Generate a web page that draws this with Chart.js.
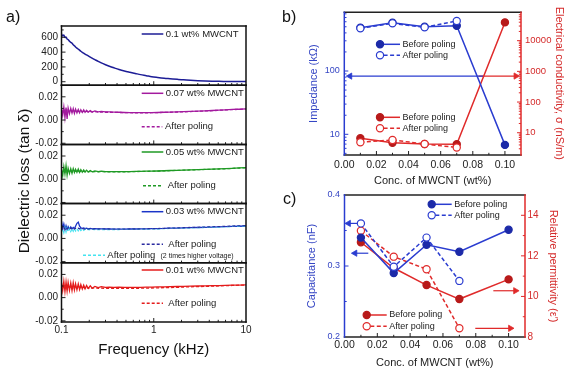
<!DOCTYPE html>
<html><head><meta charset="utf-8">
<script src="https://cdn.jsdelivr.net/npm/chart.js@4.4.1/dist/chart.umd.min.js"></script>
<style>
html,body{margin:0;padding:0;background:#fff;width:578px;height:382px;overflow:hidden}
canvas{position:absolute;left:0;top:0}
</style></head><body>
<canvas id="a0" width="578" height="382"></canvas>
<canvas id="a1" width="578" height="382"></canvas>
<canvas id="a2" width="578" height="382"></canvas>
<canvas id="a3" width="578" height="382"></canvas>
<canvas id="a4" width="578" height="382"></canvas>
<canvas id="pb" width="578" height="382"></canvas>
<canvas id="pc" width="578" height="382"></canvas>
<script>
// ---------------- Panel a data ----------------
const FREQ = [0.100,0.103,0.106,0.109,0.112,0.115,0.118,0.122,0.126,0.130,0.134,0.138,0.142,0.147,0.152,0.157,0.162,0.168,0.174,0.180,0.187,0.195,0.205,0.215,0.230,0.250,0.270,0.300,0.330,0.370,0.420,0.480,0.550,0.630,0.720,0.830,0.950,1.10,1.30,1.50,1.80,2.10,2.50,3.00,3.60,4.30,5.10,6.00,7.10,8.40,10.0];
const TAN_010 = [645,618,630,598,604,576,570,548,532,520,500,486,470,454,440,426,412,398,386,374,362,348,332,318,298,274,254,230,210,188,165,145,128,112,96,82,68,58,48,41,32,25,19,14,10,7,5,4,3,2,2];
const TAN_007 = [0.0095,0.0040,0.0112,0.0020,0.0108,0.0010,0.0104,0.0055,0.0100,0.0060,0.0098,0.0057,0.0094,0.0062,0.0091,0.0063,0.0089,0.0065,0.0087,0.0066,0.0084,0.0068,0.0081,0.0069,0.0078,0.0070,0.0075,0.0070,0.0071,0.0068,0.0067,0.0065,0.0064,0.0063,0.0063,0.0063,0.0064,0.0065,0.0067,0.0068,0.0070,0.0072,0.0074,0.0076,0.0079,0.0082,0.0085,0.0088,0.0091,0.0093,0.0096];
const TAN_007_P = [0.0085,0.0070,0.0092,0.0066,0.0088,0.0068,0.0086,0.0070,0.0084,0.0071,0.0083,0.0070,0.0081,0.0071,0.0080,0.0070,0.0078,0.0070,0.0077,0.0069,0.0076,0.0069,0.0074,0.0068,0.0072,0.0068,0.0070,0.0067,0.0067,0.0066,0.0065,0.0064,0.0063,0.0062,0.0062,0.0062,0.0063,0.0064,0.0066,0.0067,0.0069,0.0071,0.0073,0.0075,0.0078,0.0081,0.0084,0.0087,0.0090,0.0092,0.0095];
const TAN_005 = [0.0085,0.0030,0.0110,0.0045,0.0118,0.0035,0.0095,0.0050,0.0090,0.0052,0.0092,0.0058,0.0086,0.0060,0.0088,0.0059,0.0082,0.0061,0.0080,0.0062,0.0077,0.0063,0.0075,0.0064,0.0072,0.0065,0.0069,0.0065,0.0066,0.0065,0.0065,0.0065,0.0066,0.0067,0.0068,0.0069,0.0070,0.0071,0.0073,0.0075,0.0077,0.0079,0.0081,0.0083,0.0085,0.0087,0.0089,0.0091,0.0094,0.0097,0.0100];
const TAN_005_P = [0.0072,0.0062,0.0078,0.0060,0.0076,0.0062,0.0074,0.0063,0.0073,0.0063,0.0072,0.0064,0.0071,0.0064,0.0070,0.0064,0.0069,0.0064,0.0069,0.0064,0.0068,0.0064,0.0067,0.0064,0.0066,0.0064,0.0065,0.0064,0.0064,0.0064,0.0064,0.0064,0.0065,0.0066,0.0067,0.0068,0.0069,0.0070,0.0072,0.0074,0.0076,0.0078,0.0080,0.0082,0.0084,0.0086,0.0088,0.0090,0.0093,0.0096,0.0099];
const TAN_003 = [0.0150,0.0085,0.0125,0.0075,0.0110,0.0078,0.0102,0.0080,0.0098,0.0082,0.0095,0.0084,0.0105,0.0130,0.0140,0.0105,0.0092,0.0086,0.0090,0.0084,0.0088,0.0083,0.0086,0.0082,0.0084,0.0082,0.0082,0.0081,0.0081,0.0080,0.0080,0.0080,0.0081,0.0081,0.0082,0.0083,0.0084,0.0085,0.0086,0.0088,0.0089,0.0091,0.0093,0.0094,0.0096,0.0098,0.0100,0.0101,0.0103,0.0105,0.0107];
const TAN_003_P = [0.0095,0.0080,0.0098,0.0078,0.0094,0.0080,0.0092,0.0081,0.0090,0.0081,0.0089,0.0082,0.0088,0.0082,0.0087,0.0082,0.0086,0.0082,0.0085,0.0081,0.0085,0.0081,0.0084,0.0081,0.0083,0.0081,0.0082,0.0081,0.0081,0.0080,0.0080,0.0080,0.0081,0.0081,0.0082,0.0083,0.0084,0.0085,0.0087,0.0088,0.0090,0.0092,0.0094,0.0096,0.0098,0.0100,0.0102,0.0104,0.0106,0.0108,0.0110];
const TAN_003_P2 = [0.0060,0.0085,0.0050,0.0090,0.0055,0.0088,0.0058,0.0086,0.0060,0.0085,0.0062,0.0084,0.0064,0.0083,0.0066,0.0082,0.0068,0.0081,0.0070,0.0080,0.0072,0.0079,0.0074,0.0078,0.0076,0.0077,0.0077,0.0077,0.0077,0.0077,0.0077,0.0078,0.0078,0.0079,0.0080,0.0081,0.0082,0.0083,0.0084,0.0086,0.0087,0.0089,0.0091,0.0093,0.0095,0.0097,0.0099,0.0101,0.0103,0.0105,0.0107];
const TAN_001 = [0.0130,0.0060,0.0140,0.0052,0.0135,0.0058,0.0132,0.0062,0.0126,0.0060,0.0128,0.0066,0.0120,0.0068,0.0118,0.0070,0.0112,0.0074,0.0108,0.0076,0.0105,0.0079,0.0101,0.0081,0.0097,0.0086,0.0094,0.0088,0.0091,0.0089,0.0090,0.0089,0.0089,0.0089,0.0089,0.0090,0.0091,0.0092,0.0093,0.0094,0.0096,0.0097,0.0099,0.0100,0.0102,0.0103,0.0104,0.0105,0.0107,0.0108,0.0109];
const TAN_001_P = [0.0110,0.0075,0.0115,0.0072,0.0108,0.0076,0.0105,0.0078,0.0102,0.0078,0.0100,0.0079,0.0097,0.0080,0.0095,0.0080,0.0093,0.0080,0.0091,0.0080,0.0089,0.0080,0.0087,0.0080,0.0085,0.0080,0.0082,0.0080,0.0080,0.0079,0.0079,0.0079,0.0079,0.0080,0.0081,0.0082,0.0083,0.0084,0.0086,0.0087,0.0089,0.0091,0.0093,0.0095,0.0097,0.0099,0.0101,0.0103,0.0105,0.0107,0.0109];
const FREQ_TICKS = [0.1, 1, 10];
const FREQ_MINOR = [0.2,0.3,0.4,0.5,0.6,0.7,0.8,0.9,2,3,4,5,6,7,8,9];
const TOP_TICKS = [0, 200, 400, 600];
const TOP_MINOR = [100, 300, 500, 700];
const TAN_TICKS = [-0.02, 0, 0.02];
const TAN_MINOR = [-0.01, 0.01];

// ---------------- Panel b data ----------------
const CONC = [0.01, 0.03, 0.05, 0.07, 0.10];
const CONC_TICKS = [0, 0.02, 0.04, 0.06, 0.08, 0.10];
const CONC_MINOR = [0.01, 0.03, 0.05, 0.07, 0.09];
const IMP_BEFORE = [483, 579, 500, 520, 6.8];
const IMP_AFTER = [473, 566, 489, 616];
const COND_BEFORE = [6.6, 4.7, 4.3, 4.2, 39400];
const COND_AFTER = [4.9, 5.8, 4.3, 3.3];
const IMP_TICKS = [10, 100];
const COND_TICKS = [10, 100, 1000, 10000];
const ARROW_IMP_X = [0.0865, 0.0035], ARROW_IMP_Y = 83;
const ARROW_COND_X = [0.0835, 0.1068], ARROW_COND_Y = 703;

// ---------------- Panel c data ----------------
const CAP_BEFORE = [0.340, 0.290, 0.330, 0.320, 0.351];
const CAP_AFTER = [0.360, 0.299, 0.340, 0.279];
const PERM_BEFORE = [12.67, 11.40, 10.56, 9.87, 10.84];
const PERM_AFTER = [13.24, 11.96, 11.34, 8.43];
const CAP_TICKS = [0.2, 0.3, 0.4];
const CAP_MINOR = [0.25, 0.35];
const PERM_TICKS = [8, 10, 12, 14];
const PERM_MINOR = [9, 11, 13];
const ARROW_CAP1_X = [0.0095, 0.0025], ARROW_CAP1_Y = 0.36;
const ARROW_CAP2_X = [0.0145, 0.0064], ARROW_CAP2_Y = 0.318;
const ARROW_PERM1_X = [0.0907, 0.1042], ARROW_PERM1_Y = 10.28;
const ARROW_PERM2_X = [0.0797, 0.1011], ARROW_PERM2_Y = 8.43;

// ---------------- helpers ----------------
const FONT = "'Liberation Sans', Arial, Helvetica, sans-serif";
Chart.defaults.font.family = FONT;
Chart.defaults.color = '#222';
const BLUE = '#2a3cd0', BLUE_D = '#1c2aa8', RED = '#e02a2a', RED_D = '#b81a1a';
const BLUE_T = '#3546c4', RED_T = '#d42a2a';

const pts = (xs, ys) => ys.map((y, i) => ({x: xs[i], y}));
const hpts = (xs, y) => xs.map(x => ({x, y}));
const fixY = w => s => { s.width = w; s.paddingTop = 0; s.paddingBottom = 0; };
const fixX = h => s => { s.height = h; s.paddingLeft = 0; s.paddingRight = 0; };
const setTicks = vals => s => { s.ticks = vals.map(v => ({value: v})); };
function logMinors(lo, hi) {
  const out = [];
  for (let d = Math.pow(10, Math.floor(Math.log10(lo))); d < hi; d *= 10)
    for (let k = 2; k <= 9; k++) { const v = k * d; if (v > lo && v < hi) out.push(v); }
  return out;
}

function txt(ctx, s, x, y, o = {}) {
  ctx.save(); ctx.translate(x, y); ctx.rotate(o.rot || 0);
  ctx.font = `${o.size || 9.5}px ${FONT}`; ctx.fillStyle = o.color || '#222';
  ctx.textAlign = o.align || 'left'; ctx.textBaseline = 'middle';
  ctx.fillText(s, 0, 0); ctx.restore();
}
function hline(ctx, x1, x2, y, color, dash, w) {
  ctx.save(); ctx.strokeStyle = color; ctx.lineWidth = w || 1.5; ctx.setLineDash(dash || []);
  ctx.beginPath(); ctx.moveTo(x1, y); ctx.lineTo(x2, y); ctx.stroke(); ctx.restore();
}
function dot(ctx, x, y, r, fill, stroke) {
  ctx.save(); ctx.beginPath(); ctx.arc(x, y, r, 0, Math.PI * 2);
  ctx.fillStyle = fill; ctx.fill(); ctx.lineWidth = 1.2; ctx.strokeStyle = stroke; ctx.stroke(); ctx.restore();
}

function decor(spec) {
  return {
    id: 'decor',
    afterDatasetsDraw(chart) {
      const ctx = chart.ctx, a = chart.chartArea;
      ctx.save();
      (spec.ticks || []).forEach(t => {
        const sc = chart.scales[t.scale];
        ctx.strokeStyle = t.color || '#222'; ctx.lineWidth = 1;
        const draw = (v, len) => {
          const p = sc.getPixelForValue(v);
          if (t.side === 'bottom' || t.side === 'top') { if (p <= a.left + 1 || p >= a.right - 1) return; }
          else if (p <= a.top + 1 || p >= a.bottom - 1) return;
          ctx.beginPath();
          if (t.side === 'bottom') { ctx.moveTo(p, a.bottom); ctx.lineTo(p, a.bottom - len); }
          else if (t.side === 'top') { ctx.moveTo(p, a.top); ctx.lineTo(p, a.top + len); }
          else if (t.side === 'left') { ctx.moveTo(a.left, p); ctx.lineTo(a.left + len, p); }
          else { ctx.moveTo(a.right, p); ctx.lineTo(a.right - len, p); }
          ctx.stroke();
        };
        (t.major || []).forEach(v => draw(v, 4));
        (t.minor || []).forEach(v => draw(v, 2.2));
      });
      const f = spec.frame;
      ctx.lineWidth = 1.5; ctx.lineCap = 'square';
      const seg = (c, x1, y1, x2, y2) => { ctx.strokeStyle = c; ctx.beginPath(); ctx.moveTo(x1, y1); ctx.lineTo(x2, y2); ctx.stroke(); };
      seg(f.top, a.left, a.top, a.right, a.top);
      seg(f.bottom, a.left, a.bottom, a.right, a.bottom);
      seg(f.left, a.left, a.top, a.left, a.bottom);
      seg(f.right, a.right, a.top, a.right, a.bottom);
      ctx.restore();
      if (spec.draw) spec.draw(ctx, chart);
    }
  };
}

function baseOpts(pad) {
  return {
    responsive: false, animation: false, devicePixelRatio: 1, events: [],
    layout: {padding: pad},
    plugins: {legend: {display: false}, tooltip: {enabled: false}}
  };
}
const noGrid = {display: false, drawTicks: false};
const noBorder = {display: false};

// ---------------- Panel a ----------------
const A_L = 61.5, A_R = 246, A_T = 26, A_H = 59.2, A_YW = 30, A_XH = 37;
const BLK = {top: '#111', bottom: '#111', left: '#111', right: '#111'};

function line(arr, color, dash, extra) {
  return Object.assign({data: pts(FREQ, arr), borderColor: color, borderWidth: 1.3,
    borderDash: dash || [], pointRadius: 0, tension: 0, fill: false}, extra || {});
}

function subPanel(id, i, datasets, yMin, yMax, yTicks, yMinor, fmt, draw) {
  const bottom = i === 4;
  const top = A_T + A_H * i;
  const pad = {left: A_L - A_YW, right: 578 - A_R, top: top,
    bottom: 382 - (top + A_H) - (bottom ? A_XH : 0)};
  const opts = baseOpts(pad);
  opts.scales = {
    x: {type: 'logarithmic', min: 0.1, max: 10, display: bottom, grid: noGrid, border: noBorder,
      afterBuildTicks: setTicks(FREQ_TICKS), afterFit: bottom ? fixX(A_XH) : fixX(0),
      ticks: {font: {size: 10}, padding: 2, color: '#222', autoSkip: false, maxRotation: 0,
        callback: v => String(v)},
      title: {display: bottom, text: 'Frequency (kHz)', font: {size: 15}, color: '#111', padding: {top: 0, bottom: 0}}},
    y: {type: 'linear', position: 'left', min: yMin, max: yMax, grid: noGrid, border: noBorder,
      afterBuildTicks: setTicks(yTicks), afterFit: fixY(A_YW),
      ticks: {font: {size: 10}, padding: 3.5, color: '#222', autoSkip: false, callback: fmt}}
  };
  return new Chart(document.getElementById(id), {
    type: 'line', data: {datasets}, options: opts,
    plugins: [decor({frame: BLK, draw,
      ticks: [{scale: 'x', side: 'bottom', major: FREQ_TICKS, minor: FREQ_MINOR},
              {scale: 'y', side: 'left', major: yTicks, minor: yMinor}]})]
  });
}

const tanFmt = v => v.toFixed(2);
const NAVY = '#1c1c96', MAG = '#a31a9e', GRN = '#1f9a24', B03 = '#1a34c8', NAVY_D = '#2b2ba0', CYAN = '#45e3f0', R01 = '#e41c1c';
const DASH = [3, 2];

subPanel('a0', 0, [line(TAN_010, NAVY, null, {cubicInterpolationMode: 'monotone', borderWidth: 1.5})],
  -47, 753, TOP_TICKS, TOP_MINOR, v => String(v), ctx => {
    hline(ctx, 141.7, 163.3, 34, NAVY);
    txt(ctx, '0.1 wt% MWCNT', 165.7, 34);
    txt(ctx, 'a)', 6, 18, {size: 16, color: '#111'});
    txt(ctx, 'Dielectric loss (tan δ)', 24.5, 181, {size: 15.5, color: '#111', align: 'center', rot: -Math.PI / 2});
  });
subPanel('a1', 1, [line(TAN_007_P, MAG, DASH), line(TAN_007, MAG)],
  -0.021, 0.030, TAN_TICKS, TAN_MINOR, tanFmt, ctx => {
    hline(ctx, 141.7, 163.3, 93.3, MAG);
    txt(ctx, '0.07 wt% MWCNT', 165.7, 93.3);
    hline(ctx, 141.7, 162.3, 126.7, MAG, DASH);
    txt(ctx, 'After poling', 165, 126.7);
  });
subPanel('a2', 2, [line(TAN_005_P, GRN, DASH), line(TAN_005, GRN)],
  -0.021, 0.030, TAN_TICKS, TAN_MINOR, tanFmt, ctx => {
    hline(ctx, 141.7, 163.3, 152, GRN);
    txt(ctx, '0.05 wt% MWCNT', 165.7, 152);
    hline(ctx, 143, 162, 185.7, GRN, DASH);
    txt(ctx, 'After poling', 167.7, 185.7);
  });
subPanel('a3', 3, [line(TAN_003_P, NAVY_D, DASH), line(TAN_003_P2, CYAN, DASH), line(TAN_003, B03)],
  -0.021, 0.030, TAN_TICKS, TAN_MINOR, tanFmt, ctx => {
    hline(ctx, 141.7, 163.3, 211.7, B03);
    txt(ctx, '0.03 wt% MWCNT', 165.7, 211.7);
    hline(ctx, 141.7, 163, 244.3, NAVY_D, DASH);
    txt(ctx, 'After poling', 168.3, 244.3);
    hline(ctx, 83, 105, 255.3, CYAN, DASH);
    txt(ctx, 'After poling', 107.3, 255.3);
    txt(ctx, '(2 times higher voltage)', 160.5, 256, {size: 7});
  });
subPanel('a4', 4, [line(TAN_001_P, R01, DASH), line(TAN_001, R01)],
  -0.021, 0.030, TAN_TICKS, TAN_MINOR, tanFmt, ctx => {
    hline(ctx, 141.7, 163.3, 270, R01);
    txt(ctx, '0.01 wt% MWCNT', 165.7, 270);
    hline(ctx, 141.7, 163, 303.3, R01, DASH);
    txt(ctx, 'After poling', 168.3, 303.3);
  });

// ---------------- Panel b / c shared ----------------
const BDASH = [4, 2.5];
function series(xs, ys, color, fillCol, dashed, yAxisID) {
  return {data: pts(xs, ys), yAxisID, borderColor: color, borderWidth: 1.5, borderDash: dashed ? BDASH : [],
    pointRadius: 3.6, pointBorderWidth: 1.2, pointBorderColor: dashed ? color : fillCol,
    pointBackgroundColor: dashed ? '#fff' : fillCol, tension: 0, fill: false, clip: false};
}
function arrow(xs, y, color, rot, yAxisID) {
  return {data: hpts(xs, y), yAxisID, borderColor: color, borderWidth: 1.2, pointStyle: 'triangle',
    pointRotation: rot, pointRadius: [0, 3.6], pointBorderWidth: 0.8, pointBorderColor: color,
    pointBackgroundColor: color, tension: 0, fill: false, clip: false};
}
function legendPair(ctx, x, xEnd, y1, y2, color, fillCol) {
  hline(ctx, x, xEnd, y1, color);
  dot(ctx, x, y1, 3.6, fillCol, fillCol);
  txt(ctx, 'Before poling', xEnd + 2.5, y1, {size: 9});
  hline(ctx, x + 3.6, xEnd, y2, color, BDASH);
  dot(ctx, x, y2, 3.6, '#fff', color);
  txt(ctx, 'After poling', xEnd + 2.5, y2, {size: 9});
}
const concX = (h, tpad) => ({
  type: 'linear', min: 0, max: 0.11, grid: noGrid, border: noBorder,
  afterBuildTicks: setTicks(CONC_TICKS), afterFit: fixX(h),
  ticks: {font: {size: 10.5}, padding: tpad, color: '#222', autoSkip: false, maxRotation: 0, callback: v => v.toFixed(2)},
  title: {display: true, text: 'Conc. of MWCNT (wt%)', font: {size: 11}, color: '#222', padding: {top: 0, bottom: 0}}
});

// ---------------- Panel b ----------------
{
  const L = 344.3, R = 521, T = 12.3, B = 155, YW = 36.7, Y2W = 45, XH = 32.6;
  const opts = baseOpts({left: L - YW, right: 578 - R - Y2W, top: T, bottom: 382 - B - XH});
  opts.scales = {
    x: concX(XH, 3.4),
    y: {type: 'logarithmic', position: 'left', min: 4.71, max: 846, grid: noGrid, border: noBorder,
      afterBuildTicks: setTicks(IMP_TICKS), afterFit: fixY(YW),
      ticks: {font: {size: 9}, padding: 4.5, color: BLUE_T, autoSkip: false, callback: v => String(v)},
      title: {display: true, text: 'Impedance (kΩ)', font: {size: 11}, color: BLUE_T, padding: {top: 0, bottom: 0}}},
    y2: {type: 'logarithmic', position: 'right', min: 1.88, max: 84100, grid: noGrid, border: noBorder,
      afterBuildTicks: setTicks(COND_TICKS), afterFit: fixY(Y2W),
      ticks: {font: {size: 9.5}, padding: 4, color: RED_T, autoSkip: false, callback: v => String(v)}}
  };
  new Chart(document.getElementById('pb'), {
    type: 'line',
    data: {datasets: [
      series(CONC, IMP_AFTER, BLUE, BLUE_D, true, 'y'),
      series(CONC, IMP_BEFORE, BLUE, BLUE_D, false, 'y'),
      series(CONC, COND_AFTER, RED, RED_D, true, 'y2'),
      series(CONC, COND_BEFORE, RED, RED_D, false, 'y2'),
      arrow(ARROW_IMP_X, ARROW_IMP_Y, BLUE, -90, 'y'),
      arrow(ARROW_COND_X, ARROW_COND_Y, RED, 90, 'y2')
    ]},
    options: opts,
    plugins: [decor({
      frame: {top: '#222', bottom: '#222', left: BLUE, right: RED},
      ticks: [{scale: 'x', side: 'bottom', major: CONC_TICKS, minor: CONC_MINOR},
              {scale: 'y', side: 'left', major: IMP_TICKS, minor: logMinors(4.71, 846), color: BLUE},
              {scale: 'y2', side: 'right', major: COND_TICKS, minor: logMinors(1.88, 84100), color: RED}],
      draw: ctx => {
        legendPair(ctx, 380, 400, 44.3, 55.3, BLUE, BLUE_D);
        legendPair(ctx, 380, 400, 117.3, 128.3, RED, RED_D);
        txt(ctx, 'b)', 282, 18, {size: 16, color: '#111'});
        txt(ctx, 'Electrical conductivity, σ (nS/m)', 559, 83.3, {size: 11, color: RED_T, align: 'center', rot: Math.PI / 2});
      }
    })]
  });
}

// ---------------- Panel c ----------------
{
  const L = 344.5, R = 525, T = 195, B = 337, YW = 39.4, Y2W = 35, XH = 32.3;
  const opts = baseOpts({left: L - YW, right: 578 - R - Y2W, top: T, bottom: 382 - B - XH});
  opts.scales = {
    x: concX(XH, 1.7),
    y: {type: 'linear', position: 'left', min: 0.2, max: 0.4, grid: noGrid, border: noBorder,
      afterBuildTicks: setTicks(CAP_TICKS), afterFit: fixY(YW),
      ticks: {font: {size: 9}, padding: 4.5, color: BLUE_T, autoSkip: false, callback: v => v.toFixed(1)},
      title: {display: true, text: 'Capacitance (nF)', font: {size: 11}, color: BLUE_T, padding: {top: 0, bottom: 0}}},
    y2: {type: 'linear', position: 'right', min: 8, max: 15, grid: noGrid, border: noBorder,
      afterBuildTicks: setTicks(PERM_TICKS), afterFit: fixY(Y2W),
      ticks: {font: {size: 10}, padding: 2.5, color: RED_T, autoSkip: false, callback: v => String(v)},
      title: {display: true, text: 'Relative permittivity (ε′)', font: {size: 11}, color: RED_T, padding: {top: 0.1, bottom: 0}}}
  };
  new Chart(document.getElementById('pc'), {
    type: 'line',
    data: {datasets: [
      series(CONC, CAP_AFTER, BLUE, BLUE_D, true, 'y'),
      series(CONC, CAP_BEFORE, BLUE, BLUE_D, false, 'y'),
      series(CONC, PERM_AFTER, RED, RED_D, true, 'y2'),
      series(CONC, PERM_BEFORE, RED, RED_D, false, 'y2'),
      arrow(ARROW_CAP1_X, ARROW_CAP1_Y, BLUE, -90, 'y'),
      arrow(ARROW_CAP2_X, ARROW_CAP2_Y, BLUE, -90, 'y'),
      arrow(ARROW_PERM1_X, ARROW_PERM1_Y, RED, 90, 'y2'),
      arrow(ARROW_PERM2_X, ARROW_PERM2_Y, RED, 90, 'y2')
    ]},
    options: opts,
    plugins: [decor({
      frame: {top: '#222', bottom: '#222', left: BLUE, right: RED},
      ticks: [{scale: 'x', side: 'bottom', major: CONC_TICKS, minor: CONC_MINOR},
              {scale: 'y', side: 'left', major: CAP_TICKS, minor: CAP_MINOR, color: BLUE},
              {scale: 'y2', side: 'right', major: PERM_TICKS, minor: PERM_MINOR, color: RED}],
      draw: ctx => {
        legendPair(ctx, 431.7, 451.7, 204.3, 215.3, BLUE, BLUE_D);
        legendPair(ctx, 366.7, 386.7, 315, 326.3, RED, RED_D);
        txt(ctx, 'c)', 283, 200, {size: 16, color: '#111'});
      }
    })]
  });
}
</script>
</body></html>
